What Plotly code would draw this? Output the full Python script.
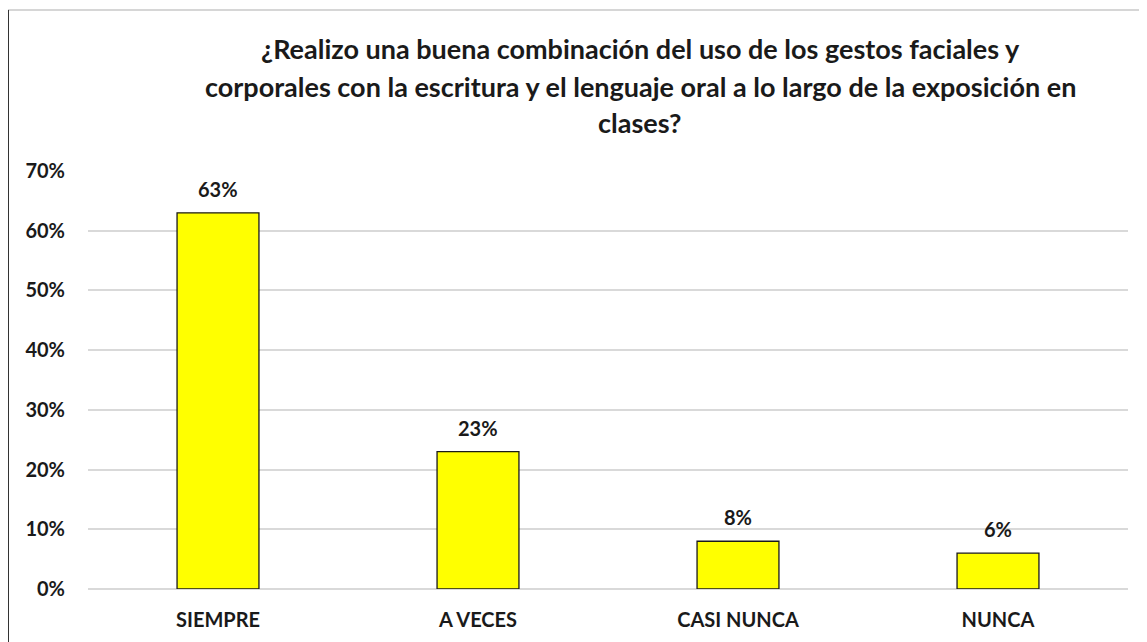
import plotly.graph_objects as go

categories = ["SIEMPRE", "A VECES", "CASI NUNCA", "NUNCA"]
values = [0.63, 0.23, 0.08, 0.06]
value_labels = ["63%", "23%", "8%", "6%"]
title_lines = [
    "¿Realizo una buena combinación del uso de los gestos faciales y",
    "corporales con la escritura y el lenguaje oral a lo largo de la exposición en",
    "clases?",
]

FONT = "Lato, 'Open Sans', sans-serif"
INK = "#1a1a1a"

# page body adds an 8px offset, so the figure is sized/placed to compensate
W, H = 1139, 634
L, R, T, B = 80, 19, 163, 53
PH = H - T - B  # plot height in px
PW = W - L - R


def py(page_y):
    return (H - B - (page_y - 8)) / PH


def px(page_x):
    return (page_x - 8 - L) / PW


fig = go.Figure(
    go.Bar(
        x=categories,
        y=values,
        width=0.315,
        marker=dict(color="#FFFF00", line=dict(color=INK, width=1.3)),
        hoverinfo="x+y",
    )
)

# value labels above bars
for c, v, t in zip(categories, values, value_labels):
    fig.add_annotation(
        x=c, y=v, text="<b>" + t + "</b>", showarrow=False,
        yanchor="bottom", yshift=10,
        font=dict(family=FONT, size=20, color=INK),
    )

# title lines, spaced like the original
for line, ty in zip(title_lines, [48, 86, 122]):
    fig.add_annotation(
        text="<b>" + line + "</b>",
        xref="paper", yref="paper",
        x=px(640), y=py(ty), yanchor="middle",
        showarrow=False,
        font=dict(family=FONT, size=27, color=INK),
    )

# chart border (top grey, left dark)
fig.add_shape(type="line", xref="paper", yref="paper",
              x0=px(7), x1=px(1160), y0=py(10), y1=py(10),
              line=dict(color="#c8c8c8", width=1.5))
fig.add_shape(type="line", xref="paper", yref="paper",
              x0=px(8), x1=px(8), y0=py(10), y1=py(660),
              line=dict(color="#333333", width=2))

fig.update_layout(
    width=W,
    height=H,
    margin=dict(l=L, r=R, t=T, b=B),
    plot_bgcolor="white",
    paper_bgcolor="white",
    showlegend=False,
    font=dict(family=FONT, size=20, color=INK),
    xaxis=dict(
        showgrid=False,
        showline=False,
        ticks="",
        ticklabelstandoff=17,
        tickfont=dict(family=FONT, size=20, color=INK, weight="bold"),
    ),
    yaxis=dict(
        range=[0, 0.7],
        dtick=0.1,
        tickformat=".0%",
        showgrid=True,
        gridcolor="#d9d9d9",
        gridwidth=1.5,
        zeroline=True,
        zerolinecolor="#d9d9d9",
        zerolinewidth=1.5,
        showline=False,
        ticks="",
        ticklabelstandoff=22,
        tickfont=dict(family=FONT, size=20, color=INK, weight="bold"),
    ),
)

fig.write_html("out.html")
